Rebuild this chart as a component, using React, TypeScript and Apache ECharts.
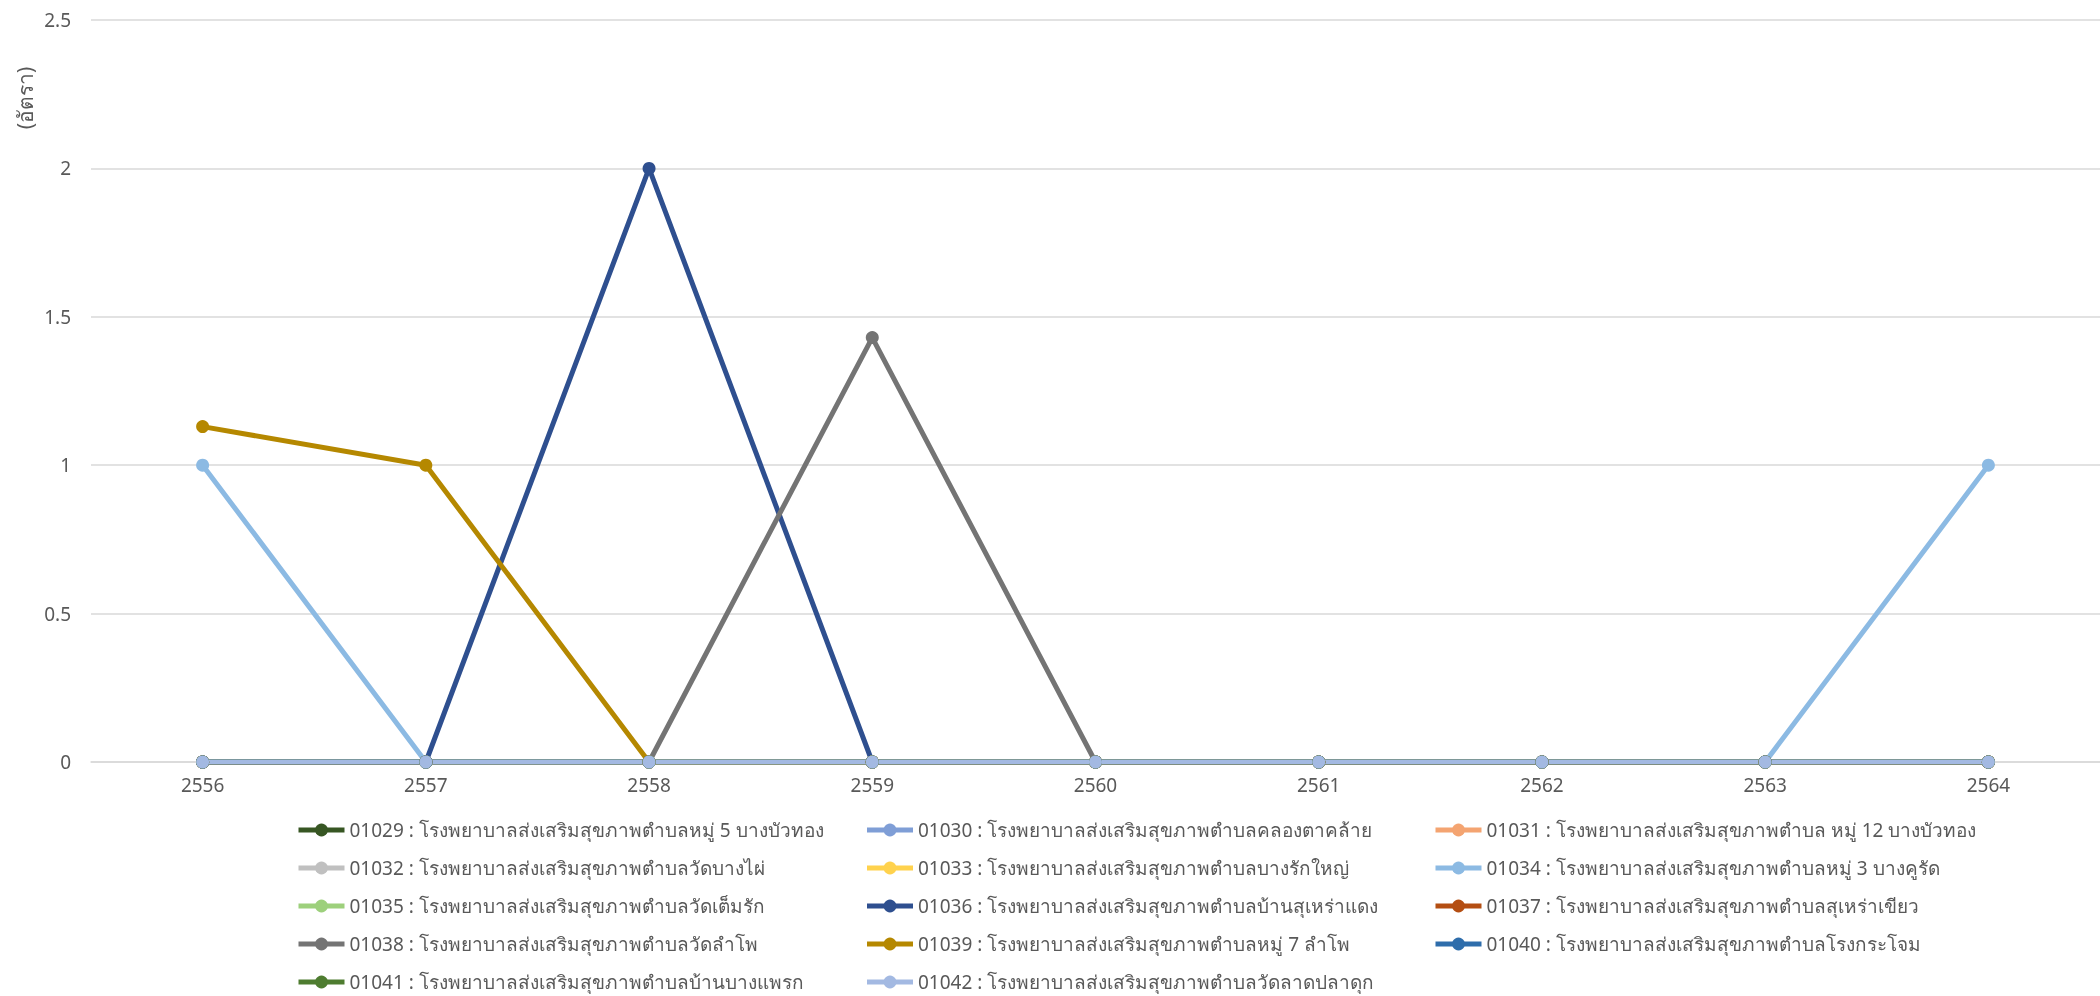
import React, { useEffect, useRef } from "react";
import * as echarts from "echarts";

const years = ["2556", "2557", "2558", "2559", "2560", "2561", "2562", "2563", "2564"];
const yTicks = [0, 0.5, 1, 1.5, 2, 2.5];
const yAxisTitle = "(อัตรา)";

const names = [
  "01029 : โรงพยาบาลส่งเสริมสุขภาพตำบลหมู่ 5 บางบัวทอง",
  "01030 : โรงพยาบาลส่งเสริมสุขภาพตำบลคลองตาคล้าย",
  "01031 : โรงพยาบาลส่งเสริมสุขภาพตำบล หมู่ 12 บางบัวทอง",
  "01032 : โรงพยาบาลส่งเสริมสุขภาพตำบลวัดบางไผ่",
  "01033 : โรงพยาบาลส่งเสริมสุขภาพตำบลบางรักใหญ่",
  "01034 : โรงพยาบาลส่งเสริมสุขภาพตำบลหมู่ 3 บางคูรัด",
  "01035 : โรงพยาบาลส่งเสริมสุขภาพตำบลวัดเต็มรัก",
  "01036 : โรงพยาบาลส่งเสริมสุขภาพตำบลบ้านสุเหร่าแดง",
  "01037 : โรงพยาบาลส่งเสริมสุขภาพตำบลสุเหร่าเขียว",
  "01038 : โรงพยาบาลส่งเสริมสุขภาพตำบลวัดลำโพ",
  "01039 : โรงพยาบาลส่งเสริมสุขภาพตำบลหมู่ 7 ลำโพ",
  "01040 : โรงพยาบาลส่งเสริมสุขภาพตำบลโรงกระโจม",
  "01041 : โรงพยาบาลส่งเสริมสุขภาพตำบลบ้านบางแพรก",
  "01042 : โรงพยาบาลส่งเสริมสุขภาพตำบลวัดลาดปลาดุก",
];

const v01029 = [0, 0, 0, 0, 0, 0, 0, 0, 0];
const v01030 = [0, 0, 0, 0, 0, 0, 0, 0, 0];
const v01031 = [0, 0, 0, 0, 0, 0, 0, 0, 0];
const v01032 = [0, 0, 0, 0, 0, 0, 0, 0, 0];
const v01033 = [0, 0, 0, 0, 0, 0, 0, 0, 0];
const v01034 = [1, 0, 0, 0, 0, 0, 0, 0, 1];
const v01035 = [0, 0, 0, 0, 0, 0, 0, 0, 0];
const v01036 = [0, 0, 2, 0, 0, 0, 0, 0, 0];
const v01037 = [0, 0, 0, 0, 0, 0, 0, 0, 0];
const v01038 = [0, 0, 0, 1.43, 0, 0, 0, 0, 0];
const v01039 = [1.13, 1, 0, 0, 0, 0, 0, 0, 0];
const v01040 = [0, 0, 0, 0, 0, 0, 0, 0, 0];
const v01041 = [0, 0, 0, 0, 0, 0, 0, 0, 0];
const v01042 = [0, 0, 0, 0, 0, 0, 0, 0, 0];

const values = [
  v01029, v01030, v01031, v01032, v01033, v01034, v01035,
  v01036, v01037, v01038, v01039, v01040, v01041, v01042,
];

const colors = [
  "#375623", "#7F9ED6", "#F4A471", "#C0C0C0", "#FFD24D", "#8CBAE3", "#9DD07C",
  "#2E4F8F", "#B44E12", "#747474", "#B58800", "#2E6DAB", "#4E7C30", "#A3B9E2",
];

const FONT = "'Noto Sans', sans-serif";
const TEXT_COLOR = "#595959";

export default function App() {
  const ref = useRef<HTMLDivElement>(null);
  useEffect(() => {
    if (!ref.current) return;
    const chart = echarts.init(ref.current, null, { renderer: "svg" });
    chart.setOption({
      animation: false,
      grid: { left: 91, right: 0, top: 20, bottom: 234, containLabel: false },
      xAxis: {
        type: "category",
        data: years,
        boundaryGap: true,
        axisLine: { show: true, lineStyle: { color: "#D9D9D9", width: 1.5 } },
        axisTick: { show: false },
        axisLabel: { color: TEXT_COLOR, fontSize: 19, fontFamily: FONT, margin: 13 },
      },
      yAxis: {
        type: "value",
        min: yTicks[0],
        max: yTicks[yTicks.length - 1],
        interval: 0.5,
        axisLine: { show: false },
        axisTick: { show: false },
        splitLine: { lineStyle: { color: "#D9D9D9", width: 1.5 } },
        axisLabel: { color: TEXT_COLOR, fontSize: 19, fontFamily: FONT, margin: 20 },
      },
      legend: {
        left: 291,
        top: 810,
        width: 1720,
        itemWidth: 46,
        itemHeight: 16,
        itemGap: 8,
        lineStyle: { width: 5 },
        textStyle: {
          color: TEXT_COLOR,
          fontSize: 19,
          fontFamily: FONT,
          width: 507,
          lineHeight: 30,
          overflow: "none",
        },
        data: names,
      },
      graphic: [
        {
          type: "text",
          x: 25,
          y: 98,
          rotation: Math.PI / 2,
          style: {
            text: yAxisTitle,
            fill: TEXT_COLOR,
            fontSize: 21,
            fontFamily: FONT,
            align: "center",
            verticalAlign: "middle",
          },
        },
      ],
      series: names.map((n, i) => ({
        name: n,
        type: "line",
        data: values[i],
        symbol: "circle",
        symbolSize: 13,
        showSymbol: true,
        color: colors[i],
        lineStyle: { width: 5, color: colors[i] },
        itemStyle: { color: colors[i] },
      })),
    });
    return () => chart.dispose();
  }, []);
  return (
    <div
      ref={ref}
      style={{ position: "fixed", left: 0, top: 0, width: 2100, height: 996 }}
    />
  );
}
